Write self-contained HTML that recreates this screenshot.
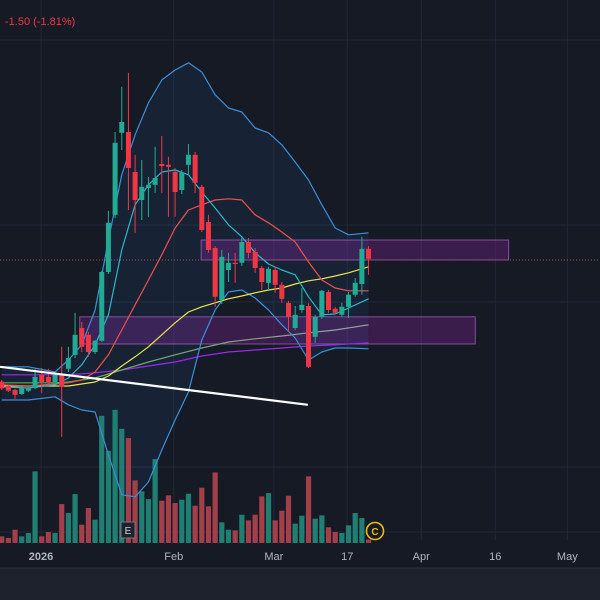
<!DOCTYPE html>
<html><head><meta charset="utf-8"><style>
html,body{margin:0;padding:0;background:#161a25;}
#wrap{position:relative;width:600px;height:600px;overflow:hidden;background:#161a25;font-family:"Liberation Sans",sans-serif;}
svg{position:absolute;left:0;top:0}
</style></head><body>
<div id="wrap">
<svg id="chart" width="600" height="600"></svg>
</div>
<script>
// ---- data ----
const ohlc = [
[52.1,52.5,50.0,50.4],[51.0,51.3,49.5,49.8],[50.0,50.3,47.8,48.8],[49.0,50.8,48.8,50.5],[49.8,51.0,49.5,50.5],
[50.5,55.3,50.2,53.3],[53.8,55.5,49.3,52.0],[53.3,55.3,51.3,52.0],[52.0,54.0,51.5,53.8],[53.8,60.8,38.3,50.8],
[55.3,60.8,54.5,58.0],[58.8,69.3,58.0,63.8],[65.5,67.0,59.5,60.8],[63.8,64.5,58.3,59.5],[59.5,62.5,59.0,62.3],
[62.3,79.8,62.0,79.5],[79.5,94.8,79.0,91.8],[93.8,114.5,93.0,111.8],[114.3,125.8,110.0,117.0],[114.5,129.3,95.0,105.5],
[104.5,108.8,89.3,97.5],[97.5,107.5,92.5,100.8],[100.5,103.3,93.3,101.3],[101.3,110.8,99.3,103.0],[106.5,113.5,99.3,106.0],
[106.3,108.3,93.3,105.8],[104.5,105.5,93.3,99.5],[100.0,105.0,99.0,104.3],[106.3,111.5,103.8,108.8],[108.8,109.5,99.3,101.8],
[100.8,101.3,89.5,90.0],[92.0,93.8,84.3,85.0],[85.5,86.0,70.8,73.3],[72.5,85.0,71.5,83.3],[80.0,84.3,77.0,81.8],
[81.8,84.3,76.8,81.5],[81.8,88.3,81.0,87.0],[87.0,88.0,83.0,84.3],[84.5,85.5,79.3,80.5],[80.5,81.0,75.0,77.0],
[76.8,80.8,75.0,80.3],[80.0,80.8,74.3,76.3],[76.3,77.0,71.8,72.8],[71.8,72.3,64.5,68.3],[65.5,71.0,65.0,68.8],
[70.0,75.5,69.3,71.3],[71.0,71.8,55.5,55.8],[63.3,68.8,61.8,68.3],[68.3,75.0,67.8,74.8],[74.5,75.0,69.3,70.0],
[70.3,70.8,69.0,69.3],[68.8,71.8,68.3,70.8],[70.8,74.5,68.0,73.8],[73.8,78.0,73.3,76.8],[76.5,88.3,73.8,85.3],
[85.3,86.0,78.8,82.8]];
const volume = [200,150,400,200,300,2150,200,330,300,1170,900,1470,550,1050,700,3820,2770,4000,3430,3150,
1880,1550,1320,2520,1270,1430,1200,1300,1480,1120,1660,1100,2120,620,400,380,850,680,850,1400,
1500,680,970,1420,580,820,2000,730,830,470,330,300,530,900,750,100];
// indicator samples (index, value pairs as separate arrays)
const indIdx   = [0,4,8,10,12,14,16,18,20,22,24,26,28,30,32,34,36,38,40,42,44,46,48,50,52,55];
const bbUpper  = [55.8,55.8,54.5,57.5,61.3,70.0,87.5,103.8,113.8,121.8,127.5,130.0,131.8,129.5,123.8,120.5,119.5,115.5,114.3,111.3,107.0,102.5,96.3,90.5,88.8,89.3];
const bbLower  = [47.5,47.5,48.3,46.3,45.0,44.5,33.8,23.8,23.3,27.0,35.0,42.5,49.5,62.5,70.0,74.5,75.0,73.0,70.0,66.3,63.0,57.5,59.5,60.5,60.5,60.3];
const maRed    = [51.3,51.0,51.5,51.8,52.5,54.5,58.8,65.0,71.3,77.5,83.8,90.5,95.0,96.3,97.5,97.8,97.5,93.8,91.8,89.5,87.0,82.0,77.5,75.5,74.8,74.8];
const maCyan   = [50.8,50.5,51.3,53.0,56.3,61.3,68.8,85.0,96.3,101.3,104.5,105.0,103.8,99.5,95.5,91.3,88.3,84.3,81.5,80.0,78.8,73.3,68.8,69.0,70.5,72.8];
const maYellow = [51.0,51.0,51.0,51.0,51.5,52.0,53.5,56.0,58.3,60.8,63.8,66.8,69.5,70.8,71.8,72.8,73.5,74.3,75.0,75.5,76.5,77.3,77.8,78.5,79.3,80.8];
const maIdx2   = [0,8,10,14,18,22,26,30,34,38,42,46,50,55];
const maGrey   = [51.8,51.8,52.0,53.0,55.0,57.0,58.8,60.5,62.0,62.8,63.5,64.3,65.0,66.3];
const maPurple = [53.8,53.8,53.8,54.3,55.0,56.0,57.0,58.5,59.5,60.0,60.5,61.0,61.3,61.8];
const trendStart = [-0.25,55.8];   // [index, price]
const trendEnd   = [45.9,46.3];
const zone1 = [29.9,76.0,87.5,82.5]; // idxStart, idxEnd, priceTop, priceBottom
const zone2 = [11.7,71.0,68.3,61.5];
const lastPrice = 82.5;
const dateLabels = ["2026","Feb","Mar","17","Apr","16","May"];
const dateIdx = [5.9,25.8,40.8,51.8,62.9,74.0,84.8];

// ---- axes ----
const SP=6.67, X0=1.7;
const xOf=i=>X0+SP*i;
const yOf=p=>590-p*4;
const VBASE=543, VK=0.0333;
const vOf=v=>VBASE-v*VK;

const svg=document.getElementById('chart');
const NS='http://www.w3.org/2000/svg';
function mk(tag,attrs,parent){const e=document.createElementNS(NS,tag);for(const k in attrs)e.setAttribute(k,attrs[k]);(parent||svg).appendChild(e);return e;}

// grid
const grid=mk('g',{});


[40,225,302,467,532].forEach(y=>mk('line',{x1:0,x2:600,y1:y,y2:y,stroke:'#232733','stroke-width':1},grid));
dateIdx.forEach(i=>{const x=xOf(i);mk('line',{x1:x,x2:x,y1:0,y2:540,stroke:'#232733','stroke-width':1},grid);});

// BB fill
const upPts=indIdx.map((i,k)=>xOf(i)+','+yOf(bbUpper[k]));
const loPts=indIdx.map((i,k)=>xOf(i)+','+yOf(bbLower[k])).reverse();
const bbf=mk('polygon',{points:upPts.concat(loPts).join(' '),fill:'rgba(33,150,243,0.08)'});



// volume
const vg=mk('g',{});


volume.forEach((v,i)=>{const up=ohlc[i][3]>=ohlc[i][0];
 const r=mk('rect',{x:xOf(i)-2.6,y:vOf(v),width:5.2,height:VBASE-vOf(v),fill:up?'#1f7f72':'#a33e4b'},vg);
 
 });

// zones
function zone(z,name){const r=mk('rect',{x:xOf(z[0]),y:yOf(z[2]),width:xOf(z[1])-xOf(z[0]),height:yOf(z[3])-yOf(z[2]),fill:'rgba(156,39,176,0.28)',stroke:'rgba(206,120,230,0.55)','stroke-width':1});
 
 }
zone(zone1,'resistance-zone');
zone(zone2,'support-zone');

// price line
const pl=mk('line',{x1:0,x2:600,y1:yOf(lastPrice),y2:yOf(lastPrice),stroke:'#b04a5a','stroke-width':1,'stroke-dasharray':'1,2'});



// lines
function line(idx,vals,color,name,w){const p=mk('polyline',{points:idx.map((i,k)=>xOf(i)+','+yOf(vals[k])).join(' '),fill:'none',stroke:color,'stroke-width':w||1.2,'stroke-linejoin':'round'});
 
 }
const defs=mk('defs',{});
const lg=mk('linearGradient',{id:'gg',x1:'0',x2:'1',y1:'0',y2:'0'},defs);
mk('stop',{offset:'0','stop-color':'#4caf50'},lg);mk('stop',{offset:'1','stop-color':'#9e9e9e'},lg);
line(maIdx2,maPurple,'#9c27f0','ma-purple');
line(maIdx2,maGrey,'url(#gg)','ma-grey');
line(indIdx,bbUpper,'#3a8fd8','bollinger-upper');
line(indIdx,bbLower,'#3a8fd8','bollinger-lower');
line(indIdx,maYellow,'#e8e84a','ma-yellow');
line(indIdx,maRed,'#ef4f4f','bollinger-basis');
line(indIdx,maCyan,'#2ab8c8','ma-cyan');

// candles
const cg=mk('g',{});


ohlc.forEach((c,i)=>{const [o,h,l,cl]=c;const up=cl>=o;const col=up?'#22ab94':'#f23645';const x=xOf(i);
 const g=mk('g',{},cg);
 
 
 mk('line',{x1:x,x2:x,y1:yOf(h),y2:yOf(l),stroke:col,'stroke-width':1},g);
 const t=yOf(Math.max(o,cl)),b=yOf(Math.min(o,cl));
 mk('rect',{x:x-2.5,y:t,width:5,height:Math.max(1,b-t),fill:col},g);});

// trend line
const tl=mk('line',{x1:xOf(trendStart[0]),y1:yOf(trendStart[1]),x2:xOf(trendEnd[0]),y2:yOf(trendEnd[1]),stroke:'#ffffff','stroke-width':2.2});



// markers
const em=mk('g',{});


mk('rect',{x:121,y:522,width:14,height:16,fill:'#1e222d',stroke:'#787b86','stroke-width':1},em);
const et=mk('text',{x:128,y:534,'text-anchor':'middle','font-size':10,fill:'#d1d4dc','font-family':'Liberation Sans, sans-serif'},em);et.textContent='E';
const cm=mk('g',{});


mk('circle',{cx:375,cy:531,r:8.5,fill:'#161a25',stroke:'#f0b90b','stroke-width':1.6},cm);
const ct=mk('text',{x:375,y:535,'text-anchor':'middle','font-size':10,'font-weight':'bold',fill:'#f0b90b','font-family':'Liberation Sans, sans-serif'},cm);ct.textContent='C';

// time axis
const ax=mk('g',{});


mk('rect',{x:0,y:568,width:600,height:32,fill:'#1e222d'},ax);
mk('line',{x1:0,x2:600,y1:568,y2:568,stroke:'#2a2e39'},ax);
dateLabels.forEach((t,k)=>{const e=mk('text',{x:xOf(dateIdx[k]),y:560,'text-anchor':'middle','font-size':11,fill:'#b2b5be','font-weight':k==0?'bold':'normal','font-family':'Liberation Sans, sans-serif'},ax);e.textContent=t;
 
 });
</script>
<div style="position:absolute;left:5px;top:16px;font:11px 'Liberation Sans',sans-serif;color:#f23645">-1.50 (-1.81%)</div>
</body></html>
